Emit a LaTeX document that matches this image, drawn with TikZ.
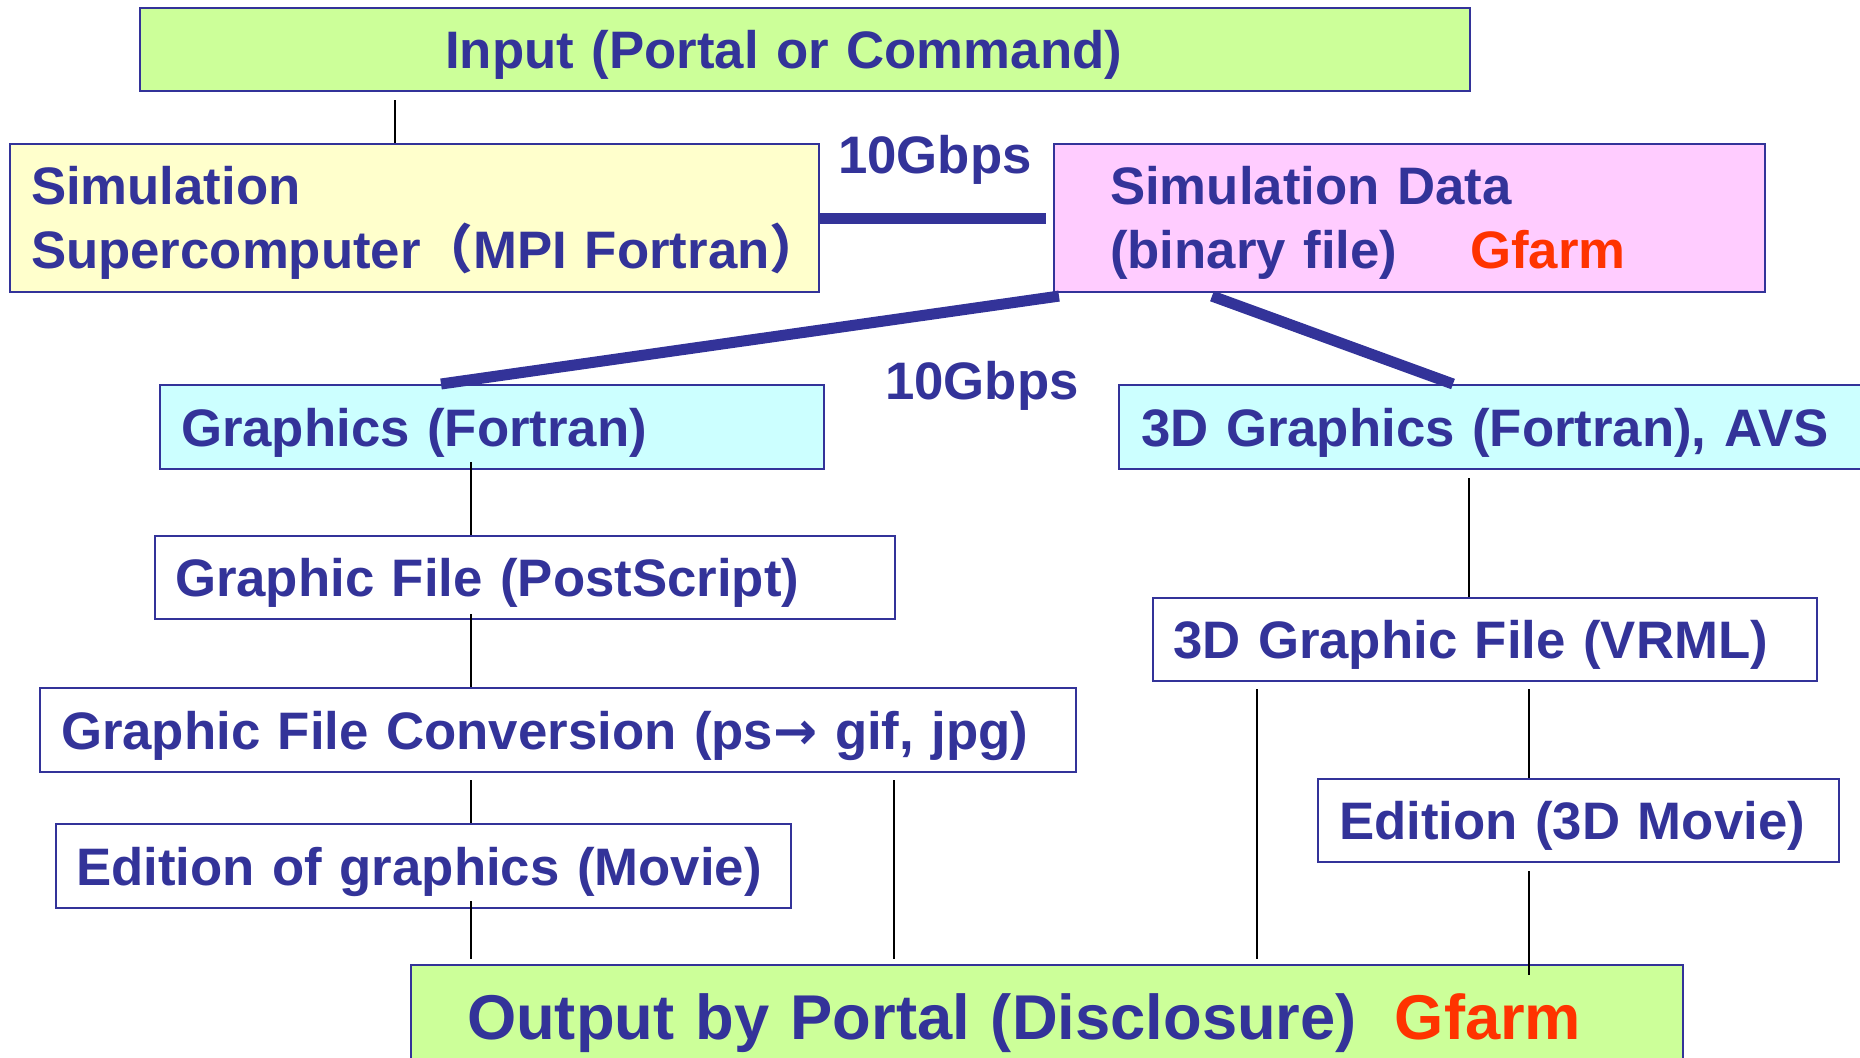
\documentclass[tikz,border=0pt]{standalone}
\usepackage{fontspec}
\setmainfont{Liberation Sans}
\newfontfamily\cjkfont{Noto Sans CJK JP}
\newfontfamily\arrowfont{DejaVu Sans}
\usepackage{xcolor}
\usetikzlibrary{calc}
\definecolor{inkblue}{HTML}{333399}
\definecolor{gfarmred}{HTML}{FF3300}
\definecolor{limebg}{HTML}{CCFF99}
\definecolor{creambg}{HTML}{FFFFCC}
\definecolor{pinkbg}{HTML}{FFCCFF}
\definecolor{cyanbg}{HTML}{CCFFFF}
\tikzset{
  card/.style={
    draw=inkblue, line width=0.02cm, anchor=north west,
    align=left, inner ysep=0pt, text=inkblue, text depth=0pt,
    font=\bfseries\fontsize{15pt}{18.2pt}\selectfont
  },
  twoline/.style={text depth=0.65cm},
  greencard/.style={card, fill=limebg},
  yellowcard/.style={card, fill=creambg},
  pinkcard/.style={card, fill=pinkbg},
  cyancard/.style={card, fill=cyanbg},
  whitecard/.style={card, fill=white},
  ratelabel/.style={text=inkblue, inner sep=0pt,
    font=\bfseries\fontsize{15pt}{18pt}\selectfont},
  thinlink/.style={draw=black, line width=0.5pt},
  fatlink/.style={draw=inkblue, line width=0.11cm}
}
\begin{document}
\begin{tikzpicture}[x=0.01cm,y=-0.01cm]
  \useasboundingbox (0,0) rectangle (1860,1057);
  \clip (0,0) rectangle (1860,1057);
  \fill[white] (0,0) rectangle (1860,1057);

  \node[greencard, text width=7.19cm, inner xsep=3.05cm, minimum height=0.83cm] (input) at (139,7) {Input (Portal or Command)};
  \node[yellowcard, twoline, text width=7.67cm, inner xsep=0.21cm, minimum height=1.48cm] (sim) at (9,143)
    {Simulation\\Supercomputer{\cjkfont （}MPI Fortran\rlap{\cjkfont ）}};
  \node[pinkcard, twoline, text width=5.99cm, inner xsep=0.56cm, minimum height=1.48cm] (data) at (1053,143)
    {Simulation Data\\(binary file)\hspace{0.73cm}\textcolor{gfarmred}{Gfarm}};
  \node[cyancard, text width=6.22cm, inner xsep=0.21cm, minimum height=0.84cm] (gfx) at (159,384) {Graphics (Fortran)};
  \node[cyancard, text width=7.56cm, inner xsep=0.22cm, minimum height=0.84cm] (gfx3d) at (1118,384) {3D Graphics (Fortran), AVS};
  \node[whitecard, text width=7.00cm, inner xsep=0.20cm, minimum height=0.83cm] (ps) at (154,535) {Graphic File (PostScript)};
  \node[whitecard, text width=9.93cm, inner xsep=0.21cm, minimum height=0.84cm] (conv) at (39,687) {Graphic File Conversion (ps{\arrowfont →} gif, jpg)};
  \node[whitecard, text width=6.95cm, inner xsep=0.20cm, minimum height=0.84cm] (edit) at (55,823) {Edition of graphics (Movie)};
  \node[whitecard, text width=6.24cm, inner xsep=0.20cm, minimum height=0.83cm] (vrml) at (1152,597) {3D Graphic File (VRML)};
  \node[whitecard, text width=4.79cm, inner xsep=0.21cm, minimum height=0.83cm] (edit3d) at (1317,778) {Edition (3D Movie)};
  \node[greencard, text width=11.59cm, inner xsep=0.56cm, minimum height=1.04cm,
        font=\bfseries\fontsize{18pt}{21pt}\selectfont] (out) at (410,964)
    {Output by Portal (Disclosure)\hspace{0.38cm}\textcolor{gfarmred}{Gfarm}};

  \node[ratelabel] (rate1) at (935,160) {10Gbps};
  \node[ratelabel] (rate2) at (982,386) {10Gbps};

  \coordinate (xin) at (395,0);
  \coordinate (xleft) at (471,0);
  \coordinate (xmid) at (894,0);
  \coordinate (xvr) at (1257,0);
  \coordinate (xthree) at (1469,0);
  \coordinate (xright) at (1529,0);

  \draw[fatlink] (sim.east) -- ([xshift=-0.07cm]data.west);
  \draw[fatlink] ($(data.south west)+(6,3)$) -- ($(gfx.north west)+(282,0)$);
  \draw[fatlink] ($(data.south west)+(159,3)$) -- ($(gfx3d.north west)+(335,0)$);

  \draw[thinlink, shorten <=0.08cm] (input.south -| xin) -- (sim.north -| xin);
  \draw[thinlink, shorten <=-0.08cm] (gfx.south -| xleft) -- (ps.north -| xleft);
  \draw[thinlink, shorten <=-0.06cm] (ps.south -| xleft) -- (conv.north -| xleft);
  \draw[thinlink, shorten <=0.07cm] (conv.south -| xleft) -- (edit.north -| xleft);
  \draw[thinlink, shorten <=-0.08cm, shorten >=0.05cm] (edit.south -| xleft) -- (out.north -| xleft);
  \draw[thinlink, shorten <=0.07cm, shorten >=0.05cm] (conv.south -| xmid) -- (out.north -| xmid);
  \draw[thinlink, shorten <=0.08cm] (gfx3d.south -| xthree) -- (vrml.north -| xthree);
  \draw[thinlink, shorten <=0.07cm, shorten >=0.05cm] (vrml.south -| xvr) -- (out.north -| xvr);
  \draw[thinlink, shorten <=0.07cm] (vrml.south -| xright) -- (edit3d.north -| xright);
  \draw[thinlink, shorten <=0.08cm, shorten >=-0.11cm] (edit3d.south -| xright) -- (out.north -| xright);
\end{tikzpicture}
\end{document}
